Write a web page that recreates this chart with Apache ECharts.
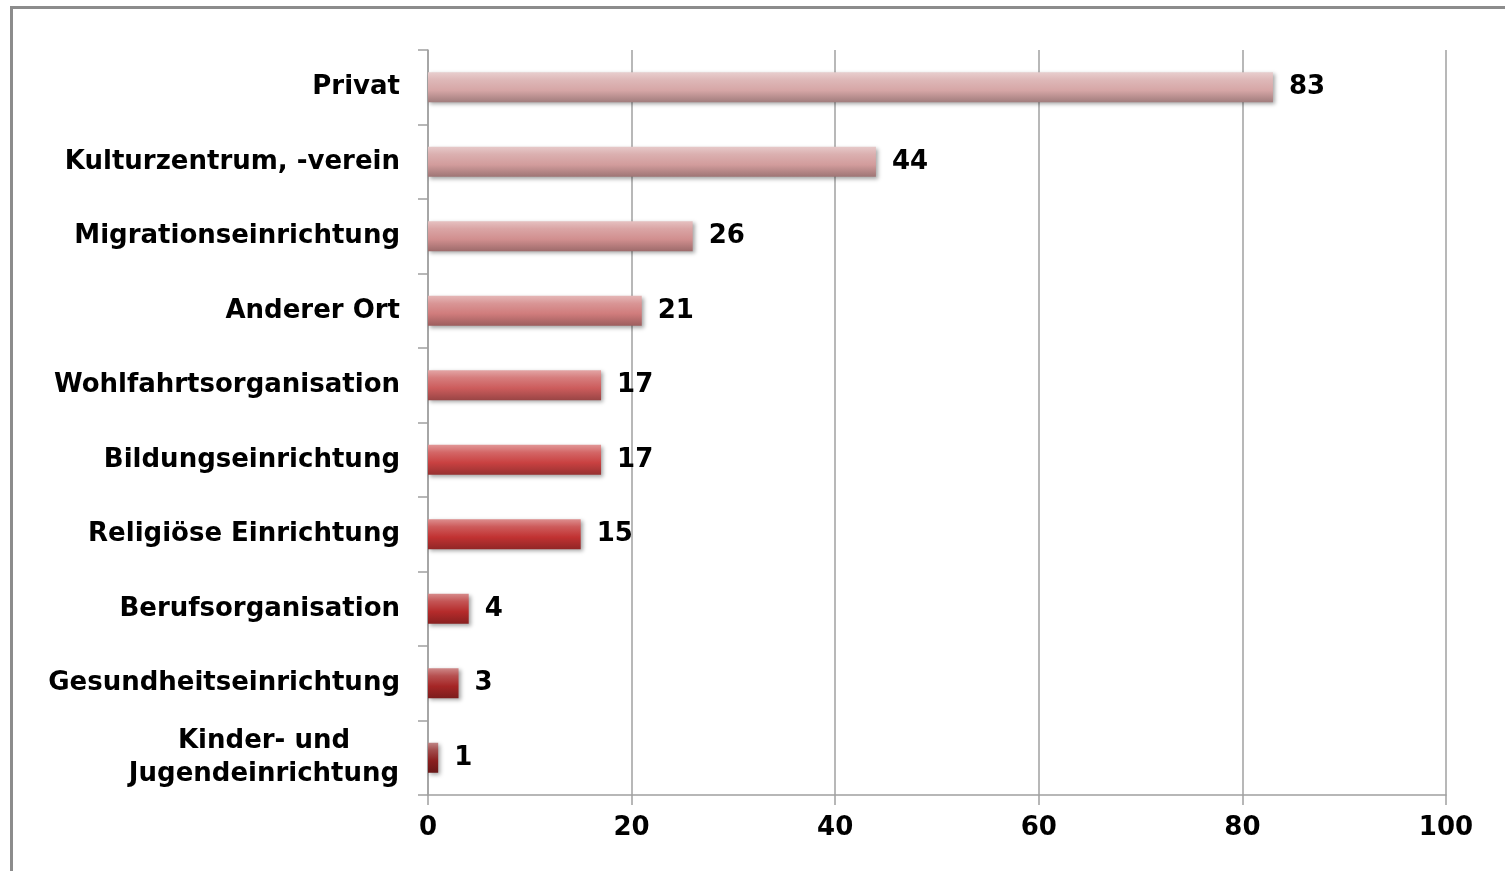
<!DOCTYPE html>
<html><head><meta charset="utf-8">
<script src="https://cdn.jsdelivr.net/npm/echarts@6/dist/echarts.min.js"></script>
<style>
html,body{margin:0;padding:0;background:#fff;overflow:hidden}
#frame{position:absolute;left:10px;top:6px;width:1510px;height:880px;border:3px solid #8c8c8c;box-sizing:border-box}
#chart{position:absolute;left:0;top:0;width:1505px;height:871px}
</style></head>
<body><div id="frame"></div><div id="chart"></div>
<script>
const categories = ['Privat','Kulturzentrum, -verein','Migrationseinrichtung','Anderer Ort','Wohlfahrtsorganisation','Bildungseinrichtung','Religiöse Einrichtung','Berufsorganisation','Gesundheitseinrichtung','Kinder- und\nJugendeinrichtung'];
const values = [83,44,26,21,17,17,15,4,3,1];
const barColors = ['#d6a6a6','#d29c9c','#d18f8f','#d07c7c','#cc5c5c','#c94141','#c13232','#b52b2b','#a52626','#8a1f1f'];

function lighten(hex, f){
  const n=parseInt(hex.slice(1),16);let r=n>>16,g=(n>>8)&255,b=n&255;
  r=Math.round(r+(255-r)*f);g=Math.round(g+(255-g)*f);b=Math.round(b+(255-b)*f);
  return 'rgb('+r+','+g+','+b+')';
}
function darken(hex, f){
  const n=parseInt(hex.slice(1),16);let r=n>>16,g=(n>>8)&255,b=n&255;
  return 'rgb('+Math.round(r*(1-f))+','+Math.round(g*(1-f))+','+Math.round(b*(1-f))+')';
}
const chart = echarts.init(document.getElementById('chart'));
const font = '"DejaVu Sans", sans-serif';
chart.setOption({
  animation:false,
  grid:{left:428,right:59,top:50,bottom:76,containLabel:false},
  xAxis:{type:'value',min:0,max:100,interval:20,
    axisLine:{show:true,lineStyle:{color:'#a0a0a0',width:1.5}},
    axisTick:{show:true,length:10,lineStyle:{color:'#a0a0a0',width:1.5}},
    splitLine:{show:true,lineStyle:{color:'#a0a0a0',width:1.5}},
    axisLabel:{color:'#000',fontFamily:font,fontWeight:'bold',fontSize:26,margin:20}},
  yAxis:{type:'category',data:categories,inverse:true,
    axisLine:{show:true,lineStyle:{color:'#a0a0a0',width:1.5}},
    axisTick:{show:true,length:10,lineStyle:{color:'#a0a0a0',width:1.5}},
    splitLine:{show:false},
    axisLabel:{color:'#000',fontFamily:font,fontWeight:'bold',fontSize:26,margin:28,align:'right',lineHeight:33,
      formatter:function(v){
        if(v.indexOf('\n')>=0){return v.split('\n').map(s=>'{c|'+s+'}').join('\n');}
        return v;
      },
      rich:{c:{width:272,align:'center',fontFamily:font,fontWeight:'bold',fontSize:26,color:'#000',lineHeight:33}}}},
  series:[{type:'bar',barWidth:30,
    data:values.map((v,i)=>({value:v,itemStyle:{color:new echarts.graphic.LinearGradient(0,0,0,1,[
      {offset:0,color:lighten(barColors[i],0.45)},
      {offset:0.25,color:lighten(barColors[i],0.2)},
      {offset:0.6,color:barColors[i]},
      {offset:1,color:darken(barColors[i],0.25)}])}})),
    itemStyle:{shadowColor:'rgba(0,0,0,0.35)',shadowBlur:4,shadowOffsetX:2,shadowOffsetY:2},
    label:{show:true,position:'right',distance:16,color:'#000',fontFamily:font,fontWeight:'bold',fontSize:26}
  }]
});
</script></body></html>
